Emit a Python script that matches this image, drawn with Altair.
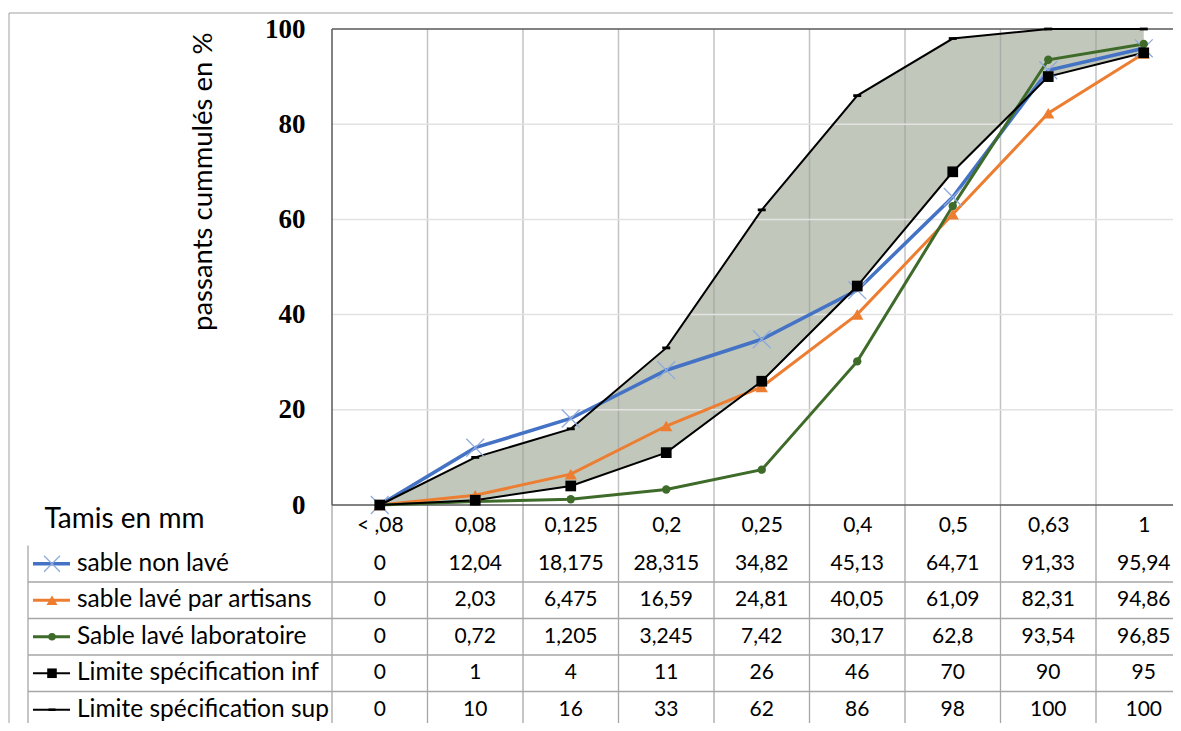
import json
import altair as alt
import pandas as pd

# ---------------- data ----------------
categories = ["< ,08", "0,08", "0,125", "0,2", "0,25", "0,4", "0,5", "0,63", "1"]
series_names = [
    "sable non lavé",
    "sable lavé par artisans",
    "Sable lavé laboratoire",
    "Limite spécification inf",
    "Limite spécification sup",
]
sable_non_lave = [0, 12.04, 18.175, 28.315, 34.82, 45.13, 64.71, 91.33, 95.94]
sable_lave_artisans = [0, 2.03, 6.475, 16.59, 24.81, 40.05, 61.09, 82.31, 94.86]
sable_lave_labo = [0, 0.72, 1.205, 3.245, 7.42, 30.17, 62.8, 93.54, 96.85]
limite_inf = [0, 1, 4, 11, 26, 46, 70, 90, 95]
limite_sup = [0, 10, 16, 33, 62, 86, 98, 100, 100]
y_ticks = [0, 20, 40, 60, 80, 100]

all_values = [sable_non_lave, sable_lave_artisans, sable_lave_labo, limite_inf, limite_sup]


def fr(v):
    s = f"{v:g}" if isinstance(v, float) else str(v)
    return s.replace(".", ",")


rows = []
for s, (name, vals) in enumerate(zip(series_names, all_values)):
    for c, (cat, v) in enumerate(zip(categories, vals)):
        rows.append(dict(series=name, sidx=s, cat=cat, ci=c, value=v, label=fr(v)))
long_df = pd.DataFrame(rows)
band_df = pd.DataFrame({"ci": list(range(len(categories))), "inf": limite_inf, "sup": limite_sup})
legend_df = pd.DataFrame({"series": series_names, "sidx": list(range(len(series_names)))})
bound_df = pd.DataFrame({"k": list(range(len(categories) + 1))})      # band boundaries
hline_df = pd.DataFrame({"k": list(range(len(series_names) + 1))})     # table row boundaries
ygrid_df = pd.DataFrame({"v": y_ticks[1:-1]})

# ---------------- layout / style ----------------
BAND = 95.5            # width of one sieve column
W, H = 841, 476        # visible plot area (the last column runs off the page, as in the original)
HDR, ROW = 40.5, 36.5  # table header row / table rows
FONT = "Lato"
NUMSIZE = 21
TXTSIZE = 24.5

styles = [
    dict(color="#4472C4", width=3.5, shape="M-1,-1L1,1M-1,1L1,-1", size=320, mcolor="#8FAADC", filled=False, sw=1.3),
    dict(color="#ED7D31", width=3, shape="triangle-up", size=150, mcolor="#ED7D31", filled=True, sw=1),
    dict(color="#3E6B2A", width=3, shape="circle", size=70, mcolor="#3E6B2A", filled=True, sw=1),
    dict(color="#000000", width=2, shape="square", size=115, mcolor="#000000", filled=True, sw=1),
    dict(color="#000000", width=2, shape="M-1,-0.35H1V0.35H-1Z", size=64, mcolor="#000000", filled=True, sw=1),
]

xs = alt.Scale(domain=[-0.5, -0.5 + W / BAND], nice=False, zero=False)
ys = alt.Scale(domain=[0, 100], nice=False, zero=False)

label_expr = json.dumps(categories) + "[datum.value]"
xaxis = alt.Axis(
    values=list(range(len(categories))), labelExpr=label_expr, grid=False, domain=False, ticks=False,
    labelFont=FONT, labelFontSize=NUMSIZE, labelColor="black", labelPadding=20, labelBaseline="middle",
    labelFlush=False, labelOverlap=False,
    title="Tamis en mm", titleFont=FONT, titleFontSize=28, titleFontWeight="normal", titleColor="black",
    titleX=-288, titleY=14, titleAlign="left", titleBaseline="middle",
)
yaxis = alt.Axis(
    values=y_ticks, grid=False, domain=False, ticks=False,
    labelFont="Liberation Serif", labelFontWeight="bold", labelFontSize=27, labelColor="black",
    labelPadding=27, labelOverlap=False, labelBaseline="middle",
    title="passants cummulés en %", titleFont=FONT, titleFontSize=27.5, titleFontWeight="normal",
    titleColor="black", titleX=-129, titleY=3, titleAlign="right", titleAngle=270, titleBaseline="middle",
)


def X(field):
    return alt.X(field, type="quantitative", scale=xs, axis=xaxis)


def Y(field):
    return alt.Y(field, type="quantitative", scale=ys, axis=yaxis)


ROW_Y = f"-({HDR} + {ROW} * (datum.sidx + 0.5)) * 100 / {H}"
HL_Y = f"-({HDR} + {ROW} * datum.k) * 100 / {H}"

layers = []

# shaded specification envelope
layers.append(
    alt.Chart(band_df).mark_area(color="#C1C8BB", opacity=1).encode(
        x=X("ci"), y=Y("sup"), y2="inf"
    )
)

# plot gridlines (on top of the envelope, below the series)
layers.append(
    alt.Chart(bound_df).transform_filter("datum.k > 0").transform_calculate(xb="datum.k - 0.5")
    .mark_rule(color="#9A9A9A", strokeWidth=1.5, opacity=0.6)
    .encode(x=X("xb"), y=alt.value(0), y2=alt.value(H))
)
layers.append(
    alt.Chart(ygrid_df).mark_rule(color="#E2E2E2", strokeWidth=1.5)
    .encode(y=Y("v"), x=alt.value(0), x2=alt.value(W + 30))
)

# data table grid
layers.append(
    alt.Chart(bound_df).transform_calculate(xb="datum.k - 0.5")
    .mark_rule(color="#A6A6A6", strokeWidth=1.3)
    .encode(x=X("xb"), y=alt.value(H), y2=alt.value(H + 260))
)
layers.append(
    alt.Chart(hline_df).transform_filter("datum.k > 0").transform_calculate(hy=HL_Y)
    .mark_rule(color="#A6A6A6", strokeWidth=1.3)
    .encode(y=Y("hy"), x=alt.value(-304), x2=alt.value(W + 30))
)
layers.append(
    alt.Chart(hline_df).transform_filter("datum.k == 0")
    .mark_rule(color="#A6A6A6", strokeWidth=1.3)
    .encode(x=alt.value(-304), y=alt.value(H + HDR), y2=alt.value(H + 260))
)
# plot-area frame (top, left, bottom)
frame = alt.Chart(hline_df).transform_filter("datum.k == 0").mark_rule(color="#595959", strokeWidth=1.5)
layers.append(frame.encode(x=alt.value(0), x2=alt.value(W + 30), y=alt.value(0)))
layers.append(frame.encode(x=alt.value(0), y=alt.value(0), y2=alt.value(H)))
layers.append(frame.encode(x=alt.value(0), x2=alt.value(W + 30), y=alt.value(H)))
# outer chart-area frame
outer = alt.Chart(hline_df).transform_filter("datum.k == 0").mark_rule(color="#A0A0A0", strokeWidth=1)
layers.append(outer.encode(x=alt.value(-323), x2=alt.value(W + 30), y=alt.value(-16)))
layers.append(outer.encode(x=alt.value(-323), y=alt.value(-16), y2=alt.value(H + 260)))

# series lines and markers
for s, st in enumerate(styles):
    src = alt.Chart(long_df).transform_filter(f"datum.sidx == {s}")
    layers.append(
        src.mark_line(color=st["color"], strokeWidth=st["width"]).encode(x=X("ci"), y=Y("value"))
    )
for s, st in enumerate(styles):
    src = alt.Chart(long_df).transform_filter(f"datum.sidx == {s}")
    layers.append(
        src.mark_point(shape=st["shape"], size=st["size"], filled=st["filled"], color=st["mcolor"],
                       strokeWidth=st["sw"], opacity=1)
        .encode(x=X("ci"), y=Y("value"))
    )

# table values
layers.append(
    alt.Chart(long_df).transform_calculate(ty=ROW_Y)
    .mark_text(font=FONT, fontSize=NUMSIZE, color="black", align="center", baseline="middle")
    .encode(x=X("ci"), y=Y("ty"), text="label:N")
)

# legend keys inside the table
layers.append(
    alt.Chart(legend_df).transform_calculate(ty=ROW_Y)
    .mark_text(font=FONT, fontSize=TXTSIZE, color="black", align="left", baseline="middle")
    .encode(x=alt.value(-255), y=Y("ty"), text="series:N")
)
for s, st in enumerate(styles):
    src = alt.Chart(legend_df).transform_filter(f"datum.sidx == {s}").transform_calculate(ty=ROW_Y)
    layers.append(
        src.mark_rule(color=st["color"], strokeWidth=st["width"])
        .encode(x=alt.value(-299), x2=alt.value(-262), y=Y("ty"))
    )
    layers.append(
        src.mark_point(shape=st["shape"], size=st["size"] * 0.8, filled=st["filled"], color=st["mcolor"],
                       strokeWidth=st["sw"], opacity=1)
        .encode(x=alt.value(-280), y=Y("ty"))
    )

chart = (
    alt.layer(*layers)
    .properties(
        width=W, height=H,
        autosize=alt.AutoSizeParams(type="none"),
        padding={"left": 324, "top": 21, "right": 0, "bottom": 715 - 21 - H},
        background="white",
    )
    .configure_view(stroke=None)
)

chart.save("out.html", embed_options={"renderer": "svg", "actions": False})
